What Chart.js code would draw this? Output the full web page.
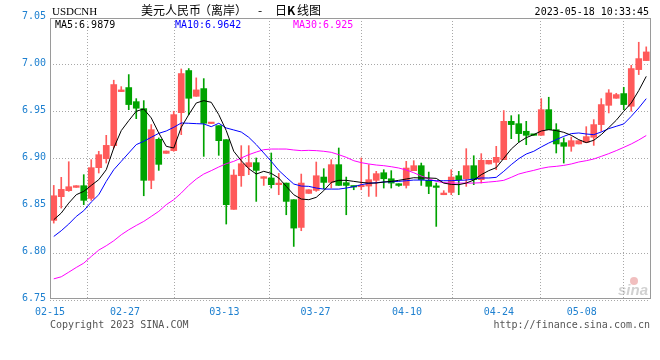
<!DOCTYPE html>
<html>
<head>
<meta charset="utf-8">
<script src="https://cdn.jsdelivr.net/npm/chart.js@4"></script>
<style>
  html, body { margin: 0; padding: 0; background: #fff; }
  #wrap { width: 660px; height: 360px; }
</style>
</head>
<body>
<div id="wrap"><canvas id="kline" width="660" height="360"></canvas></div>
<script>
// USDCNH daily candles, oldest first
const openPx = [6.8347,6.8599,6.8663,6.8698,6.8716,6.8581,6.8908,6.9003,6.9142,6.9717,
  6.9760,6.9610,6.9536,6.8773,6.9209,6.9060,6.9089,6.9493,6.9941,6.9667,
  6.9749,6.9377,6.9355,6.9206,6.8464,6.8822,6.8918,6.8961,6.8794,6.8798,
  6.8727,6.8744,6.8567,6.8272,6.8634,6.8666,6.8808,6.8751,6.8940,6.8748,
  6.8712,6.8705,6.8712,6.8773,6.8854,6.8790,6.8737,6.8719,6.8876,6.8929,
  6.8773,6.8709,6.8620,6.8645,6.8822,6.8790,6.8929,6.8780,6.8947,6.8964,
  6.8993,6.9401,6.9376,6.9295,6.9259,6.9252,6.9525,6.9312,6.9174,6.9135,
  6.9160,6.9177,6.9231,6.9366,6.9571,6.9646,6.9696,6.9561,6.9951,7.0047];
const highPx = [6.8719,6.8805,6.8971,6.8716,6.8833,6.8993,6.9082,6.9252,6.9838,6.9770,
  6.9898,6.9642,6.9621,6.9366,6.9224,6.9085,6.9508,6.9958,6.9962,6.9863,
  6.9855,6.9384,6.9355,6.9206,6.8886,6.9142,6.9142,6.9011,6.8812,6.9064,
  6.8847,6.8744,6.8567,6.8840,6.8673,6.8968,6.8897,6.8993,6.9117,6.8808,
  6.8712,6.9011,6.8940,6.8869,6.8886,6.8876,6.8737,6.8975,6.8982,6.8957,
  6.8861,6.8744,6.8663,6.8886,6.8869,6.9110,6.9035,6.9057,6.8986,6.9135,
  6.9515,6.9461,6.9472,6.9401,6.9259,6.9642,6.9657,6.9376,6.9224,6.9234,
  6.9195,6.9344,6.9419,6.9642,6.9738,6.9699,6.9763,6.9997,7.0242,7.0193];
const lowPx = [6.8318,6.8478,6.8656,6.8698,6.8514,6.8560,6.8851,6.8957,6.9117,6.9717,
  6.9525,6.9429,6.8609,6.8684,6.8879,6.9060,6.9082,6.9259,6.9472,6.9667,
  6.9028,6.9377,6.9039,6.8308,6.8464,6.8709,6.8833,6.8549,6.8719,6.8691,
  6.8620,6.8407,6.8070,6.8237,6.8634,6.8656,6.8684,6.8691,6.8719,6.8407,
  6.8673,6.8673,6.8602,6.8602,6.8691,6.8691,6.8709,6.8691,6.8876,6.8719,
  6.8631,6.8283,6.8620,6.8620,6.8620,6.8709,6.8727,6.8744,6.8947,6.8886,
  6.8993,6.9216,6.9181,6.9152,6.9252,6.9252,6.9312,6.9064,6.8957,6.9082,
  6.9160,6.9177,6.9145,6.9295,6.9490,6.9646,6.9525,6.9508,6.9898,7.0047];
const closePx = [6.8609,6.8677,6.8705,6.8716,6.8560,6.8908,6.9046,6.9145,6.9792,6.9735,
  6.9579,6.9540,6.8773,6.9312,6.8943,6.9085,6.9472,6.9909,6.9646,6.9735,
  6.9380,6.9384,6.9195,6.8514,6.8829,6.8950,6.8961,6.8879,6.8812,6.8727,
  6.8744,6.8549,6.8265,6.8744,6.8673,6.8822,6.8751,6.8940,6.8719,6.8719,
  6.8702,6.8716,6.8780,6.8844,6.8790,6.8744,6.8719,6.8904,6.8929,6.8780,
  6.8709,6.8698,6.8638,6.8808,6.8780,6.8929,6.8780,6.8986,6.8986,6.9018,
  6.9401,6.9366,6.9270,6.9252,6.9252,6.9525,6.9312,6.9160,6.9135,6.9195,
  6.9195,6.9238,6.9366,6.9579,6.9703,6.9685,6.9579,6.9962,7.0068,7.0139];

// moving averages as drawn on the chart
const ma5 = [6.8354,6.8425,6.8531,6.8620,6.8656,6.8719,6.8780,6.8886,6.9117,6.9302,
  6.9408,6.9508,6.9532,6.9437,6.9277,6.9135,6.9117,6.9337,6.9472,6.9596,
  6.9621,6.9603,6.9472,6.9302,6.9082,6.8982,6.8897,6.8840,6.8869,6.8847,
  6.8798,6.8709,6.8620,6.8574,6.8567,6.8592,6.8663,6.8751,6.8773,6.8773,
  6.8762,6.8751,6.8744,6.8744,6.8755,6.8762,6.8773,6.8787,6.8801,6.8798,
  6.8798,6.8794,6.8744,6.8730,6.8727,6.8744,6.8776,6.8833,6.8876,6.8908,
  6.9007,6.9106,6.9177,6.9227,6.9259,6.9298,6.9312,6.9302,6.9284,6.9252,
  6.9206,6.9174,6.9199,6.9259,6.9334,6.9412,6.9508,6.9596,6.9728,6.9879];
const ma10 = [6.8176,6.8237,6.8308,6.8389,6.8450,6.8542,6.8620,6.8762,6.8886,6.8975,
  6.9064,6.9153,6.9188,6.9231,6.9273,6.9298,6.9337,6.9383,6.9380,6.9376,
  6.9373,6.9344,6.9380,6.9330,6.9309,6.9287,6.9231,6.9153,6.9064,6.8975,
  6.8879,6.8805,6.8734,6.8712,6.8709,6.8691,6.8680,6.8680,6.8680,6.8691,
  6.8705,6.8727,6.8741,6.8748,6.8755,6.8758,6.8762,6.8769,6.8776,6.8776,
  6.8773,6.8769,6.8769,6.8769,6.8773,6.8776,6.8787,6.8798,6.8798,6.8805,
  6.8869,6.8940,6.9003,6.9053,6.9082,6.9128,6.9170,6.9206,6.9241,6.9270,
  6.9277,6.9266,6.9259,6.9287,6.9323,6.9348,6.9373,6.9454,6.9543,6.9642];
const ma30 = [6.7725,6.7747,6.7796,6.7846,6.7892,6.7963,6.8031,6.8077,6.8130,6.8194,
  6.8247,6.8293,6.8336,6.8389,6.8443,6.8514,6.8567,6.8638,6.8719,6.8787,
  6.8840,6.8876,6.8915,6.8950,6.8975,6.9011,6.9046,6.9074,6.9099,6.9106,
  6.9106,6.9106,6.9096,6.9089,6.9092,6.9089,6.9082,6.9071,6.9046,6.9018,
  6.8982,6.8961,6.8947,6.8936,6.8929,6.8918,6.8904,6.8883,6.8854,6.8819,
  6.8790,6.8762,6.8748,6.8744,6.8744,6.8744,6.8744,6.8748,6.8755,6.8762,
  6.8773,6.8805,6.8840,6.8861,6.8879,6.8900,6.8915,6.8922,6.8932,6.8947,
  6.8968,6.8982,6.9000,6.9028,6.9057,6.9089,6.9124,6.9160,6.9202,6.9250];

// axis labels: date ticks sit at these candle positions
const xTickAt = [-0.5, 9.5, 22.75, 34.9, 47.1, 59.35, 70.4];
const xTickText = ['02-15', '02-27', '03-13', '03-27', '04-10', '04-24', '05-08'];
const yTicks = [6.75, 6.80, 6.85, 6.90, 6.95, 7.00, 7.05];

const stamp = '2023-05-18 10:33:45';

const RED = '#ff5a5a';
const GREEN = '#00a300';
const TICK_BLUE = '#1e80d0';
const MONO = '"DejaVu Sans Mono", "Liberation Mono", monospace';
const CJK = '"Noto Sans CJK SC", sans-serif';

const idx = closePx.map((_, i) => i);
const candleColor = idx.map(i => closePx[i] > openPx[i] ? RED : GREEN);

const wicks = idx.map(i => ({ x: i, y: [lowPx[i], highPx[i]] }));
const bodies = idx.map(i => ({
  x: i,
  y: [Math.min(openPx[i], closePx[i]), Math.max(openPx[i], closePx[i])]
}));

function maLine(values, color) {
  return {
    type: 'line',
    data: idx.map(i => ({ x: i, y: values[i] })),
    borderColor: color,
    borderWidth: 1,
    pointRadius: 0,
    tension: 0,
    order: 0
  };
}

// frame, titles, MA legend, footer
const sinaDecor = {
  id: 'sinaDecor',
  afterDraw(chart) {
    const { ctx, chartArea: a } = chart;
    ctx.save();

    ctx.strokeStyle = '#9a9a9a';
    ctx.lineWidth = 1;
    ctx.setLineDash([]);
    ctx.strokeRect(a.left + 0.5, a.top + 0.5, a.right - a.left, a.bottom - a.top - 2);

    ctx.textBaseline = 'alphabetic';
    ctx.fillStyle = '#000';
    ctx.font = '11px "Liberation Serif", serif';
    ctx.textAlign = 'left';
    ctx.fillText('USDCNH', 52, 15);

    // title is spaced out in the original, so place it in pieces
    ctx.font = '12px ' + CJK;
    ctx.fillText('美元人民币', 141, 15);
    ctx.fillText('（离岸）', 199, 15);
    ctx.fillText('-', 258, 15);
    ctx.fillText('日', 275, 15);
    ctx.font = 'bold 12px ' + CJK;
    ctx.fillText('K', 287, 15);
    ctx.font = '12px ' + CJK;
    ctx.fillText('线图', 297, 15);

    ctx.font = '10px ' + MONO;
    ctx.textAlign = 'right';
    ctx.fillText(stamp, 649, 15);

    ctx.textAlign = 'left';
    ctx.fillStyle = '#000';
    ctx.fillText('MA5:' + ma5[ma5.length - 1], 55, 28);
    ctx.fillStyle = '#0000ff';
    ctx.fillText('MA10:' + ma10[ma10.length - 1], 175, 28);
    ctx.fillStyle = '#ff00ff';
    ctx.fillText('MA30:' + ma30[ma30.length - 1], 293, 28);

    ctx.fillStyle = '#555';
    ctx.fillText('Copyright 2023 SINA.COM', 50, 328);
    ctx.textAlign = 'right';
    ctx.fillText('http://finance.sina.com.cn', 650, 328);

    // faded sina watermark
    ctx.globalAlpha = 0.45;
    ctx.fillStyle = '#e07070';
    ctx.beginPath();
    ctx.arc(634, 281, 4, 0, Math.PI * 2);
    ctx.fill();
    ctx.fillStyle = '#9a9a9a';
    ctx.font = 'italic bold 15px "Liberation Sans", sans-serif';
    ctx.fillText('sina', 648, 295);
    ctx.restore();
  }
};

new Chart(document.getElementById('kline'), {
  type: 'bar',
  data: {
    datasets: [
      maLine(ma5, '#000000'),
      maLine(ma10, '#0000ff'),
      maLine(ma30, '#ff00ff'),
      {
        data: bodies,
        backgroundColor: candleColor,
        borderWidth: 0,
        barThickness: 6,
        minBarLength: 1.5,
        grouped: false,
        order: 1
      },
      {
        data: wicks,
        backgroundColor: candleColor,
        borderWidth: 0,
        barThickness: 1,
        minBarLength: 1,
        grouped: false,
        order: 2
      }
    ]
  },
  options: {
    responsive: false,
    animation: false,
    events: [],
    layout: { padding: { top: 18, right: 10, left: 0, bottom: 0 } },
    plugins: { legend: { display: false }, tooltip: { enabled: false } },
    scales: {
      x: {
        type: 'linear',
        min: -0.5,
        max: 79.5,
        offset: false,
        afterBuildTicks: s => { s.ticks = xTickAt.map(v => ({ value: v })); },
        afterFit: s => { s.height = 60; },
        grid: { color: '#a8a8a8', drawTicks: false, tickLength: 0 },
        border: { display: false, dash: [1, 2] },
        ticks: {
          autoSkip: false,
          maxRotation: 0,
          padding: 6,
          color: TICK_BLUE,
          font: { family: MONO, size: 10 },
          callback: (v, i) => xTickText[i]
        }
      },
      y: {
        min: 6.75,
        max: 7.05,
        afterBuildTicks: s => { s.ticks = yTicks.map(v => ({ value: v })); },
        afterFit: s => { s.width = 50; },
        grid: { color: '#a8a8a8', drawTicks: false, tickLength: 0 },
        border: { display: false, dash: [1, 2] },
        ticks: {
          padding: 4,
          labelOffset: -2,
          color: TICK_BLUE,
          font: { family: MONO, size: 10 },
          callback: v => v.toFixed(2)
        }
      }
    }
  },
  plugins: [sinaDecor]
});
</script>
</body>
</html>
